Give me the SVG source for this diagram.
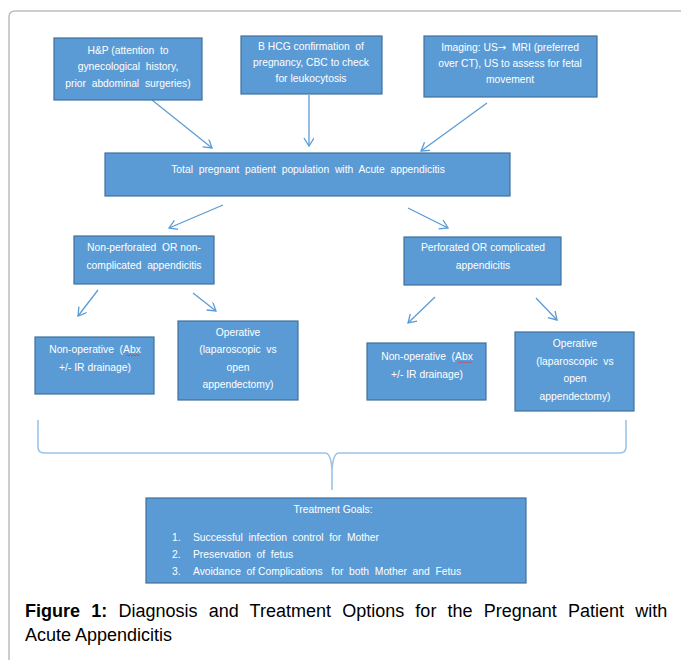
<svg xmlns="http://www.w3.org/2000/svg" width="681" height="660" viewBox="0 0 681 660">
<style>
.box{fill:#5b9bd5;stroke:#41719c;stroke-width:1.2}
.t{font-family:"Liberation Sans",Arial,sans-serif;font-size:10.3px;fill:#ffffff;text-anchor:middle;white-space:pre}
.tl{font-family:"Liberation Sans",Arial,sans-serif;font-size:10.3px;fill:#ffffff;white-space:pre}
.c{stroke:#5b9bd5;stroke-width:1.3;fill:none;marker-end:url(#ah)}
.cap{font-family:"Liberation Sans",Arial,sans-serif;font-size:18px;fill:#000}
</style>
<defs>
<marker id="ah" markerWidth="12" markerHeight="12" refX="9" refY="5" orient="auto" markerUnits="userSpaceOnUse">
<path d="M1,0 L9,5 L1,10" fill="none" stroke="#5b9bd5" stroke-width="1.3"/>
</marker>
</defs>
<rect width="681" height="660" fill="#ffffff"/>
<path d="M9,700 L9,17 Q9,11 15,11 L700,11" fill="none" stroke="#bdbdbd" stroke-width="1.5"/>

<g id="connectors">
<line class="c" x1="152" y1="100" x2="212" y2="148"/>
<line class="c" x1="309" y1="95" x2="309" y2="146"/>
<line class="c" x1="487" y1="103" x2="421" y2="151"/>
<line class="c" x1="223" y1="205" x2="169" y2="228"/>
<line class="c" x1="408" y1="208" x2="448" y2="228"/>
<line class="c" x1="98" y1="290" x2="78" y2="316"/>
<line class="c" x1="193" y1="293" x2="216" y2="311"/>
<line class="c" x1="435" y1="297" x2="408" y2="323"/>
<line class="c" x1="536" y1="298" x2="557" y2="320"/>
<path d="M38,420 L38,447 Q38,453 44,453 L325,453 Q331,453 332,470 L332,490 M332,490 L332,470 Q333,453 339,453 L620,453 Q626,453 626,447 L626,420" fill="none" stroke="#9dc3e6" stroke-width="1.6"/>
</g>

<g id="hp">
<rect class="box" x="54" y="38" width="148" height="62"/>
<text class="t" x="128" y="54">H&amp;P (attention  to</text>
<text class="t" x="128" y="70">gynecological  history,</text>
<text class="t" x="128" y="87">prior  abdominal  surgeries)</text>
</g>
<g id="bhcg">
<rect class="box" x="241" y="36" width="141" height="58"/>
<text class="t" x="311" y="50">B HCG confirmation  of</text>
<text class="t" x="311" y="66">pregnancy, CBC to check</text>
<text class="t" x="311" y="82">for leukocytosis</text>
</g>
<g id="imaging">
<rect class="box" x="424" y="36" width="173" height="61"/>
<text class="t" x="510" y="51">Imaging: US<tspan font-family="'DejaVu Sans',sans-serif" font-size="10px">→</tspan>  MRI (preferred</text>
<text class="t" x="510" y="67">over CT), US to assess for fetal</text>
<text class="t" x="510" y="83">movement</text>
</g>
<g id="total">
<rect class="box" x="105" y="153" width="405" height="43"/>
<text class="t" x="308" y="173">Total  pregnant  patient  population  with  Acute  appendicitis</text>
</g>
<g id="nonperf">
<rect class="box" x="74" y="236" width="140" height="48"/>
<text class="t" x="144" y="251">Non-perforated  OR non-</text>
<text class="t" x="144" y="269">complicated  appendicitis</text>
</g>
<g id="perf">
<rect class="box" x="404" y="237" width="157" height="48"/>
<text class="t" x="483" y="251">Perforated OR complicated</text>
<text class="t" x="483" y="269">appendicitis</text>
</g>
<g id="nonop-left">
<rect class="box" x="35" y="337" width="119" height="57"/>
<text class="t" x="95" y="353">Non-operative  (Abx</text>
<text class="t" x="95" y="371">+/- IR drainage)</text>
<path d="M126,356 l1.5,-1.5 l1.5,1.5 l1.5,-1.5 l1.5,1.5 l1.5,-1.5 l1.5,1.5 l1.5,-1.5 l1.5,1.5 l1.5,-1.5" fill="none" stroke="#d04040" stroke-width="0.8"/>
</g>
<g id="op-left">
<rect class="box" x="178" y="321" width="120" height="79"/>
<text class="t" x="238" y="336">Operative</text>
<text class="t" x="238" y="353">(laparoscopic  vs</text>
<text class="t" x="238" y="371">open</text>
<text class="t" x="238" y="388">appendectomy)</text>
</g>
<g id="nonop-right">
<rect class="box" x="367" y="343" width="119" height="57"/>
<text class="t" x="427" y="360">Non-operative  (Abx</text>
<text class="t" x="427" y="378">+/- IR drainage)</text>
<path d="M458,363 l1.5,-1.5 l1.5,1.5 l1.5,-1.5 l1.5,1.5 l1.5,-1.5 l1.5,1.5 l1.5,-1.5 l1.5,1.5 l1.5,-1.5" fill="none" stroke="#d04040" stroke-width="0.8"/>
</g>
<g id="op-right">
<rect class="box" x="515" y="332" width="119" height="79"/>
<text class="t" x="575" y="347">Operative</text>
<text class="t" x="575" y="365">(laparoscopic  vs</text>
<text class="t" x="575" y="382">open</text>
<text class="t" x="575" y="400">appendectomy)</text>
</g>
<g id="goals">
<rect class="box" x="146" y="498" width="380" height="85"/>
<text class="t" x="333" y="513">Treatment Goals:</text>
<text class="tl" x="172" y="541">1.</text>
<text class="tl" x="193" y="541">Successful  infection  control  for  Mother</text>
<text class="tl" x="172" y="558">2.</text>
<text class="tl" x="193" y="558">Preservation  of  fetus</text>
<text class="tl" x="172" y="575">3.</text>
<text class="tl" x="193" y="575">Avoidance  of Complications   for  both  Mother  and  Fetus</text>
</g>

<text class="cap" x="25" y="617" word-spacing="6.2"><tspan font-weight="bold">Figure 1:</tspan> Diagnosis and Treatment Options for the Pregnant Patient with</text>
<text class="cap" x="25" y="641">Acute Appendicitis</text>
</svg>
